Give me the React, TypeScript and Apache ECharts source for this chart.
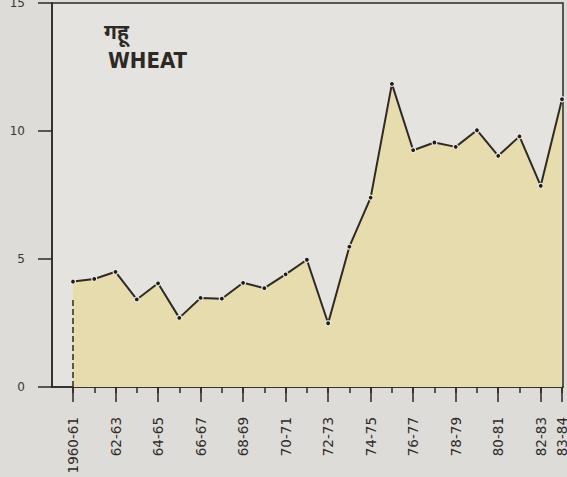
import React, { useEffect, useRef } from "react";
import * as echarts from "echarts";

const categories = [
  "1960-61", "61-62", "62-63", "63-64", "64-65", "65-66", "66-67", "67-68",
  "68-69", "69-70", "70-71", "71-72", "72-73", "73-74", "74-75", "75-76",
  "76-77", "77-78", "78-79", "79-80", "80-81", "81-82", "82-83", "83-84",
];
const wheatValues = [
  4.12, 4.22, 4.5, 3.42, 4.05, 2.7, 3.48, 3.45, 4.07, 3.86, 4.4, 4.97,
  2.49, 5.48, 7.4, 11.84, 9.25, 9.55, 9.38, 10.03, 9.03, 9.79, 7.86, 11.24,
];
const yTicks = { min: 0, max: 15, interval: 5 };
const titleHindi = "गहू";
const titleEnglish = "WHEAT";

const INK = "#2e2925";
const BG = "#dedcd8";
const PLOT_BG = "#e4e3df";
const FILL = "#e7dcad";

const isMajor = (i: number) => i % 2 === 0 || i === categories.length - 1;

export default function App() {
  const ref = useRef<HTMLDivElement>(null);
  useEffect(() => {
    document.body.style.margin = "0";
    const chart = echarts.init(ref.current!, null, { renderer: "svg" });
    chart.setOption({
      animation: false,
      backgroundColor: BG,
      textStyle: { fontFamily: "DejaVu Sans, sans-serif" },
      title: [
        {
          text: titleHindi,
          left: 99,
          top: 15,
          textStyle: { fontSize: 21, fontWeight: "bold", color: INK, fontFamily: "Noto Sans, DejaVu Sans, sans-serif" },
        },
        {
          text: titleEnglish,
          left: 103,
          top: 44,
          textStyle: { fontSize: 22, fontWeight: "bold", color: INK, fontFamily: "DejaVu Sans Condensed, DejaVu Sans, sans-serif" },
        },
      ],
      grid: [
        { left: 52, right: 4, top: 3, bottom: 90, show: true, borderColor: INK, borderWidth: 1.5, backgroundColor: PLOT_BG, outerBoundsMode: "none", containLabel: false },
        { left: 73, right: 5, top: 3, bottom: 90, show: false, outerBoundsMode: "none", containLabel: false },
      ],
      xAxis: [
        {
          gridIndex: 0, type: "value", min: 0, max: 1, position: "bottom",
          axisLine: { show: true, lineStyle: { color: INK, width: 1.5 } },
          axisTick: { show: false }, axisLabel: { show: false }, splitLine: { show: false },
        },
        {
          gridIndex: 1, type: "category", data: categories, boundaryGap: false, position: "bottom",
          axisLine: { show: false },
          axisTick: { show: true, interval: 0, length: 6, lineStyle: { color: INK, width: 1.5 } },
          axisLabel: { show: false },
        },
        {
          gridIndex: 1, type: "category", data: categories, boundaryGap: false, position: "bottom",
          axisLine: { show: false },
          axisTick: { show: true, interval: (i: number) => isMajor(i), length: 15, lineStyle: { color: INK, width: 1.5 } },
          axisLabel: {
            show: true, interval: (i: number) => isMajor(i), rotate: 90, margin: 30,
            fontSize: 13.5, color: "#2f2b28", fontFamily: "DejaVu Sans, sans-serif",
          },
        },
      ],
      yAxis: [
        {
          gridIndex: 0, type: "value", ...yTicks, position: "left",
          axisLine: { show: true, lineStyle: { color: INK, width: 1.5 } },
          axisTick: { show: true, length: 14, lineStyle: { color: INK, width: 1.5 } },
          axisLabel: { margin: 27, fontSize: 12, color: "#3a3633" },
          splitLine: { show: false },
        },
        { gridIndex: 1, type: "value", ...yTicks, show: false },
      ],
      series: [
        {
          type: "line",
          xAxisIndex: 1,
          yAxisIndex: 1,
          data: wheatValues,
          symbol: "circle",
          symbolSize: 5,
          itemStyle: { color: "#1f1b18", borderColor: "#ece9e2", borderWidth: 1.2 },
          lineStyle: { color: INK, width: 2 },
          areaStyle: { color: FILL, opacity: 1 },
          markLine: {
            silent: true,
            symbol: "none",
            label: { show: false },
            lineStyle: { color: INK, width: 1.5, type: "dashed" },
            data: [[{ coord: [0, 0] }, { coord: [0, 3.5] }]],
          },
        },
      ],
    });
    return () => chart.dispose();
  }, []);
  return <div ref={ref} style={{ position: "absolute", left: 0, top: 0, width: 567, height: 477 }} />;
}
